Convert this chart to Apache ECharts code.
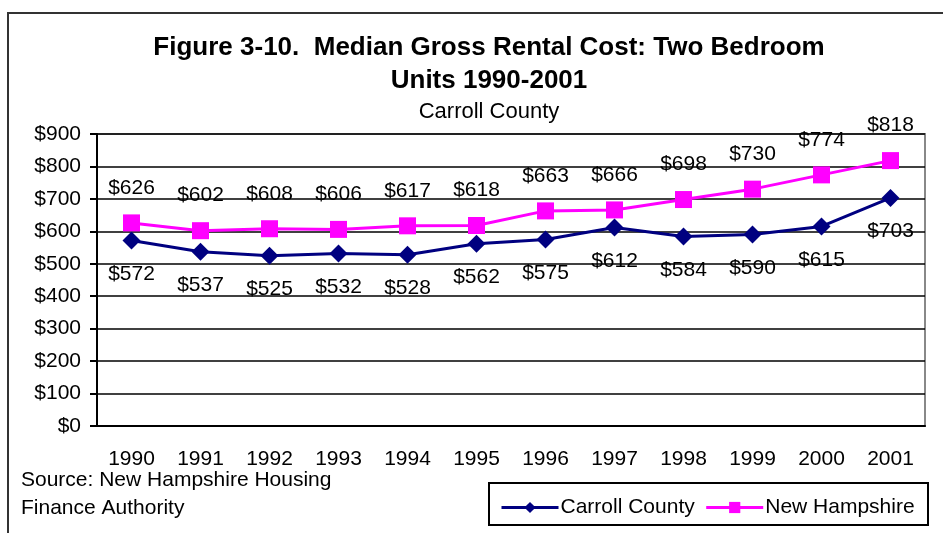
<!DOCTYPE html>
<html>
<head>
<meta charset="utf-8">
<script src="https://cdn.jsdelivr.net/npm/echarts@6/dist/echarts.min.js"></script>
<style>
  html, body { margin: 0; padding: 0; background: #fff; }
  #chart { width: 943px; height: 533px; }
</style>
</head>
<body>
<div id="chart"></div>
<script>
const years = ['1990', '1991', '1992', '1993', '1994', '1995', '1996', '1997', '1998', '1999', '2000', '2001'];
const carrollCounty = [572, 537, 525, 532, 528, 562, 575, 612, 584, 590, 615, 703];
const newHampshire = [626, 602, 608, 606, 617, 618, 663, 666, 698, 730, 774, 818];
const yTicks = { min: 0, max: 900, interval: 100 };

const labelFont = { fontFamily: 'Liberation Sans', fontSize: 21, color: '#000' };
const chart = echarts.init(document.getElementById('chart'));

chart.setOption({
  animation: false,
  backgroundColor: '#fff',
  title: [
    {
      text: 'Figure 3-10.  Median Gross Rental Cost: Two Bedroom\nUnits 1990-2001',
      left: 484, top: 26, textAlign: 'center',
      textStyle: { fontFamily: 'Liberation Sans', fontWeight: 'bold', fontSize: 26, lineHeight: 33, color: '#000' }
    },
    {
      text: 'Carroll County',
      left: 484, top: 96, textAlign: 'center',
      textStyle: { fontFamily: 'Liberation Sans', fontWeight: 'normal', fontSize: 22, color: '#000' }
    }
  ],
  graphic: [
    { type: 'rect', shape: { x: 8, y: 13, width: 960, height: 560 }, style: { fill: 'none', stroke: '#333', lineWidth: 2 } },
    { type: 'text', left: 21, top: 470, style: { text: 'Source: New Hampshire Housing', font: '21px Liberation Sans', fill: '#000' } },
    { type: 'text', left: 21, top: 498, style: { text: 'Finance Authority', font: '21px Liberation Sans', fill: '#000' } },
    { type: 'rect', shape: { x: 489, y: 483, width: 439, height: 42 }, style: { fill: 'none', stroke: '#000', lineWidth: 2 } }
  ],
  legend: {
    left: 495, top: 492,
    itemWidth: 57, itemHeight: 14, itemGap: 10,
    lineStyle: { width: 3 },
    textStyle: { fontFamily: 'Liberation Sans', fontSize: 21, color: '#000', padding: [0, 0, 0, -3] },
    data: ['Carroll County', 'New Hampshire']
  },
  grid: { left: 97, right: 18, top: 134, bottom: 107, show: true, borderColor: '#888', borderWidth: 2, backgroundColor: '#fff' },
  xAxis: {
    type: 'category',
    data: years,
    boundaryGap: true,
    axisLine: { lineStyle: { color: '#000', width: 2 } },
    axisTick: { length: 6, lineStyle: { color: '#000', width: 2 } },
    axisLabel: Object.assign({ margin: 23 }, labelFont)
  },
  yAxis: {
    type: 'value',
    min: yTicks.min, max: yTicks.max, interval: yTicks.interval,
    axisLine: { show: true, lineStyle: { color: '#000', width: 2 } },
    axisTick: { show: true, length: 7, lineStyle: { color: '#000', width: 2 } },
    splitLine: { lineStyle: { color: '#000', width: 1.5 } },
    axisLabel: Object.assign({ margin: 16, formatter: v => '$' + v }, labelFont)
  },
  series: [
    {
      name: 'Carroll County',
      type: 'line',
      data: carrollCounty,
      symbol: 'diamond',
      symbolSize: 18,
      color: '#000080',
      lineStyle: { color: '#000080', width: 3 },
      itemStyle: { color: '#000080' },
      label: Object.assign({ show: true, position: 'bottom', distance: 14, formatter: p => '$' + p.value }, labelFont),
      z: 3
    },
    {
      name: 'New Hampshire',
      type: 'line',
      data: newHampshire,
      symbol: 'rect',
      symbolSize: 17,
      color: '#ff00ff',
      lineStyle: { color: '#ff00ff', width: 3 },
      itemStyle: { color: '#ff00ff' },
      label: Object.assign({ show: true, position: 'top', distance: 16, formatter: p => '$' + p.value }, labelFont),
      z: 4
    }
  ]
});
</script>
</body>
</html>
